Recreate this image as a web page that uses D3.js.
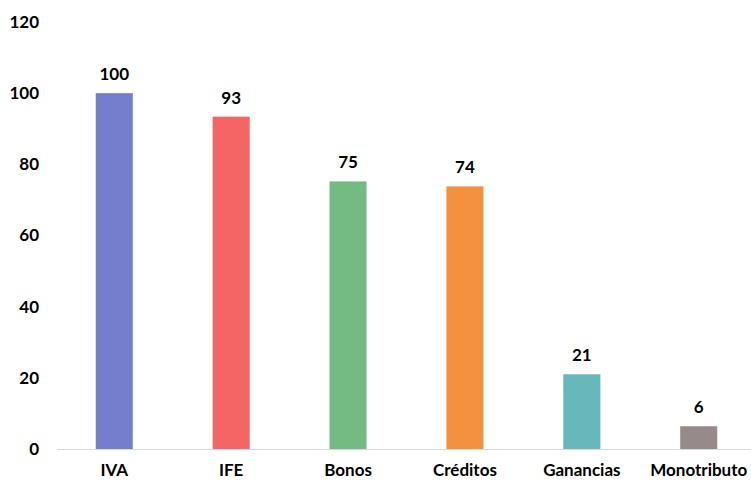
<!DOCTYPE html>
<html>
<head>
<meta charset="utf-8">
<script src="https://cdn.jsdelivr.net/npm/d3@7"></script>
<style>
  body { margin: 0; background: #fff; }
  svg text { font-family: Lato, "Open Sans", sans-serif; font-weight: bold; fill: #000; }
</style>
</head>
<body>
<div id="chart"></div>
<script>
var categories = ["IVA", "IFE", "Bonos", "Créditos", "Ganancias", "Monotributo"];
var values = [100, 93.4, 75.2, 73.8, 21.0, 6.4];
var colors = ["#757ecd", "#f66566", "#72bb82", "#f39140", "#66b8bb", "#968b8a"];
var yTicks = [0, 20, 40, 60, 80, 100, 120];

let width = 751, height = 481;
let margin = {top: 22, right: -6, bottom: 32, left: 56};

let svg = d3.select("#chart")
    .append("svg")
    .attr("width", width)
    .attr("height", height);

let x = d3.scaleBand()
    .domain(categories)
    .range([margin.left, width - margin.right])
    .paddingInner(0.683)
    .paddingOuter(0.34);

let y = d3.scaleLinear()
    .domain([0, 120])
    .range([height - margin.bottom, margin.top]);

// y tick labels, no axis line
svg.append("g")
    .selectAll("text")
    .data(yTicks)
    .enter()
    .append("text")
    .attr("x", 39)
    .attr("y", d => y(d))
    .attr("dy", "0.35em")
    .attr("text-anchor", "end")
    .style("font-size", "17px")
    .text(d => d);

// bars
svg.append("g")
    .selectAll("rect")
    .data(values)
    .enter()
    .append("rect")
    .attr("x", (d, i) => x(categories[i]))
    .attr("y", d => y(d))
    .attr("width", x.bandwidth())
    .attr("height", d => y(0) - y(d))
    .style("fill", (d, i) => colors[i]);

// baseline
svg.append("line")
    .attr("x1", 57)
    .attr("x2", width)
    .attr("y1", y(0) + 0.5)
    .attr("y2", y(0) + 0.5)
    .style("stroke", "#d9d9d9")
    .style("stroke-width", 1);

// value labels
svg.append("g")
    .selectAll("text")
    .data(values)
    .enter()
    .append("text")
    .attr("x", (d, i) => x(categories[i]) + x.bandwidth() / 2)
    .attr("y", d => y(d) - 19)
    .attr("dy", "0.35em")
    .attr("text-anchor", "middle")
    .style("font-size", "17px")
    .text(d => Math.round(d));

// category labels
svg.append("g")
    .selectAll("text")
    .data(categories)
    .enter()
    .append("text")
    .attr("x", d => x(d) + x.bandwidth() / 2)
    .attr("y", 476)
    .attr("text-anchor", "middle")
    .style("font-size", "17px")
    .text(d => d);
</script>
</body>
</html>
